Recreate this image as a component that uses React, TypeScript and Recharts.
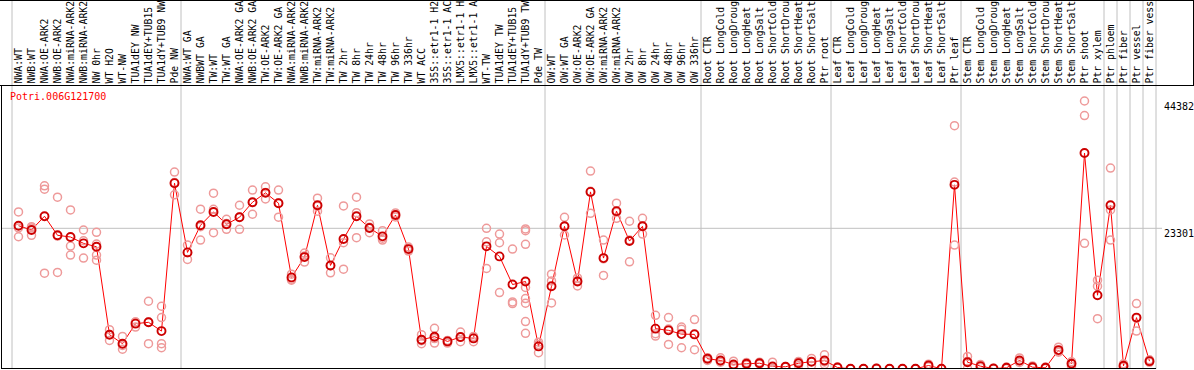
import React from 'react';
import { ComposedChart, Line, Scatter, XAxis, YAxis, ReferenceLine } from 'recharts';

const geneId = 'Potri.006G121700';

// sample names as the header prints them (cut to 14 characters)
const sampleLabels = [
  'NWA:WT', 'NWB:WT', 'NWA:OE-ARK2', 'NWB:OE-ARK2', 'NWA:miRNA-ARK2', 'NWB:miRNA-ARK2', 'NW 0hr', 'WT H2O',
  'WT-NW', 'TUA1dEY NW', 'TUA1dEY+TUB15', 'TUA1dY+TUB9 NW', 'Pde NW',
  'NWA:WT GA', 'NWBWT GA', 'TW:WT', 'TW:WT GA', 'NWA:OE-ARK2 GA', 'NWB:OE-ARK2 GA', 'TW:OE-ARK2', 'TW:OE-ARK2 GA',
  'NWA:miRNA-ARK2', 'NWB:miRNA-ARK2', 'TW:miRNA-ARK2', 'TW:miRNA-ARK2', 'TW 2hr', 'TW 8hr', 'TW 24hr', 'TW 48hr',
  'TW 96hr', 'TW 336hr', 'WT ACC', '35S::etr1-1 H2', '35S::etr1-1 AC', 'LMX5::etr1-1 H', 'LMX5::etr1-1 A',
  'WT-TW', 'TUA1dEY TW', 'TUA1dEY+TUB15', 'TUA1dY+TUB9 TW', 'Pde TW',
  'OW:WT', 'OW:WT GA', 'OW:OE-ARK2', 'OW:OE-ARK2 GA', 'OW:miRNA-ARK2', 'OW:miRNA-ARK2', 'OW 2hr', 'OW 8hr',
  'OW 24hr', 'OW 48hr', 'OW 96hr', 'OW 336hr',
  'Root CTR', 'Root LongCold', 'Root LongDroug', 'Root LongHeat', 'Root LongSalt', 'Root ShortCold',
  'Root ShortDrou', 'Root ShortHeat', 'Root ShortSalt', 'Ptr root',
  'Leaf CTR', 'Leaf LongCold', 'Leaf LongDroug', 'Leaf LongHeat', 'Leaf LongSalt', 'Leaf ShortCold',
  'Leaf ShortDrou', 'Leaf ShortHeat', 'Leaf ShortSalt', 'Ptr leaf',
  'Stem CTR', 'Stem LongCold', 'Stem LongDroug', 'Stem LongHeat', 'Stem LongSalt', 'Stem ShortCold',
  'Stem ShortDrou', 'Stem ShortHeat', 'Stem ShortSalt', 'Ptr shoot', 'Ptr xylem',
  'Ptr phloem', 'Ptr fiber', 'Ptr vessel', 'Ptr fiber vess',
];

// how many samples sit between two grey separators
const groupSizes = [13, 28, 12, 10, 10, 11, 1, 1, 1, 1];

const meanValues = [
  23730, 23020, 25300, 22140, 21860, 20810, 20240, 5680, 4190, 7510, 7730, 6280, 30780,
  19310, 23800, 26010, 23970, 25130, 27620, 29170, 27460, 15170, 18530, 27120, 17150, 21520, 25300, 23350, 21970,
  25510, 19860, 4850, 5350, 4570, 5290, 5070, 20310, 18650, 13990, 14490, 3740,
  13710, 23630, 14490, 29330, 18370, 26140, 21190, 23630, 6680, 6400, 5780, 5730,
  1700, 1410, 750, 860, 960, 420, 370, 960, 1200, 1410,
  250, 30, 30, 80, 30, 30, 30, 580, 30, 30500,
  1130, 470, 80, 200, 1410, 300, 200, 3130, 860, 35770, 12220,
  27120, 530, 8510, 1300,
];

const replicateValues = [
  [26010, 23350, 21900], [23350, 23570, 22140], [30330, 29780, 15870], [28450, 22020, 15990],
  [26340, 20360, 18860], [23020, 21240, 18370], [22640, 20690, 18860, 18030], [6520, 5730, 4740],
  [5400, 3910, 3290], [7780, 7800, 6950], [11220, 7780, 4190], [10390, 8510, 4190, 3520], [32610, 30900, 28840],
  [20530, 19260, 18150], [26460, 23570, 21360], [29120, 26440, 22570], [24800, 24080, 23140],
  [27120, 25180, 23140], [29630, 27570, 25630], [30170, 29220, 28170], [29630, 27510, 25150],
  [15710, 14880, 14710], [19200, 18700, 17700], [28290, 26960, 26130], [18420, 17100, 15920],
  [27010, 20910, 16540], [28450, 25890, 21740], [24020, 23470, 22570], [22900, 21660, 21360],
  [25840, 25510, 25180], [20190, 19860, 19530], [5680, 4690, 4190], [6730, 5040, 4290],
  [4740, 4690, 4290], [6120, 5240, 4520], [5400, 5240, 4520], [23300, 21070, 16650],
  [22350, 20910, 12660], [19860, 11100, 10840],
  [23190, 22900, 20640, 13500, 11670, 10890, 7850, 5900],
  [4450, 4070, 2690],
  [15710, 14590, 10940], [25130, 23580, 22190], [15090, 14630, 13760], [32770, 29430, 25790],
  [21360, 18250, 15490], [27460, 25960, 24960], [24470, 21360, 17750], [24960, 23580, 22350],
  [8890, 5850, 5450], [8510, 6620, 4070], [6950, 6570, 3520], [8180, 5830, 3190],
  [1880, 1800, 1410], [1860, 1250, 1130], [1300, 580, 420], [1080, 860, 670], [1130, 960, 800],
  [1130, 80, 30], [420, 370, 300], [1250, 1080, 580], [1750, 1250, 580], [2360, 1160, 750],
  [330, 250, 170], [20, 40, 30], [20, 40, 30], [60, 80, 100], [20, 40, 30], [20, 40, 30],
  [20, 40, 30], [800, 580, 370], [20, 40, 30], [40300, 30950, 20530],
  [2080, 1250, 80], [750, 420, 250], [60, 80, 100], [330, 200, 80], [1830, 1330, 1080],
  [500, 250, 170], [330, 170, 80], [3620, 2790, 2960], [960, 420, 1210], [44382, 41970, 20810],
  [14710, 13710, 8340], [33270, 26340, 21360], [860, 420, 330], [10840, 8390, 6280], [1530, 1250, 1110],
];

const axisTicks = [0, 23301, 44382];

const W = 1194;
const H = 370;
const HEADER_H = 85;
const LEFT = 12;
const RIGHT = 38;
const BOTTOM = 1;
const Y_MAX = 47033;
const PLOT_H = H - HEADER_H - BOTTOM;
const COL_W = (W - LEFT - RIGHT) / sampleLabels.length;
// value at the very top edge of the picture, so separators can run through the header
const Y_AT_TOP = (Y_MAX * (H - BOTTOM)) / PLOT_H;

const font = "'DejaVu Sans Mono', monospace";

const lineData = meanValues.map((v, i) => ({ x: i + 0.5, value: v }));
const repData = replicateValues.flatMap((reps, i) => reps.map(v => ({ x: i + 0.5, value: v })));

const boundaries: number[] = [0];
groupSizes.forEach(s => boundaries.push(boundaries[boundaries.length - 1] + s));

const LabelTick = (props: any) => {
  const { x, payload } = props;
  const label = sampleLabels[Math.floor(payload.value)];
  const y = HEADER_H - 1.5;
  return (
    <text x={x} y={y} dy="0.35em" transform={`rotate(-90, ${x}, ${y})`} fontFamily={font} fontSize={9.8} fill="#000">
      {label}
    </text>
  );
};

const ValueTick = (props: any) => {
  const { y, payload } = props;
  const ty = payload.value === 0 ? y - 3 : y + 8.5;
  return (
    <text x={W - RIGHT + 8} y={ty} fontFamily={font} fontSize={10} fill="#000">
      {payload.value}
    </text>
  );
};

const RepDot = (props: any) => (
  <circle cx={props.cx} cy={props.cy} r={4} fill="none" stroke="#ee9a9a" strokeWidth={1.5} />
);

export default function App() {
  const gridLeft = (1 - LEFT) / COL_W;
  const gridRight = (W - RIGHT + 6 - LEFT) / COL_W;
  return (
    <div style={{ position: 'absolute', left: 0, top: 0, width: W, height: H, background: '#fff' }}>
      <ComposedChart width={W} height={H} margin={{ top: 0, right: 0, bottom: BOTTOM, left: LEFT }}>
        <XAxis
          xAxisId={0}
          type="number"
          dataKey="x"
          orientation="top"
          height={HEADER_H}
          domain={[0, sampleLabels.length]}
          ticks={sampleLabels.map((_, i) => i + 0.5)}
          interval={0}
          allowDataOverflow
          axisLine={false}
          tickLine={false}
          tick={<LabelTick />}
        />
        <YAxis
          yAxisId={0}
          orientation="right"
          width={RIGHT}
          domain={[0, Y_MAX]}
          ticks={axisTicks}
          allowDataOverflow
          axisLine={false}
          tickLine={false}
          tick={<ValueTick />}
        />
        {boundaries.map(b => (
          <ReferenceLine
            key={'b' + b}
            segment={[{ x: b, y: 0 }, { x: b, y: Y_AT_TOP }]}
            stroke="#c0c0c0"
            strokeWidth={1}
            ifOverflow="visible"
          />
        ))}
        <ReferenceLine
          segment={[{ x: gridLeft, y: axisTicks[1] }, { x: gridRight, y: axisTicks[1] }]}
          stroke="#c0c0c0"
          strokeWidth={1}
          ifOverflow="visible"
        />
        <Scatter data={repData} dataKey="value" shape={RepDot} isAnimationActive={false} />
        <Line
          data={lineData}
          dataKey="value"
          type="linear"
          stroke="#ff0000"
          strokeWidth={1}
          dot={{ r: 4, stroke: '#cc0000', strokeWidth: 1.9, fill: 'none' }}
          activeDot={false}
          isAnimationActive={false}
        />
      </ComposedChart>
      <svg width={W} height={H} style={{ position: 'absolute', left: 0, top: 0, pointerEvents: 'none' }}>
        <line x1={0} y1={0.5} x2={W} y2={0.5} stroke="#000" />
        <line x1={0} y1={HEADER_H + 0.5} x2={W} y2={HEADER_H + 0.5} stroke="#000" />
        <line x1={W - 0.5} y1={0} x2={W - 0.5} y2={HEADER_H} stroke="#000" />
        <line x1={1.5} y1={HEADER_H} x2={1.5} y2={H - 1} stroke="#000" />
        <line x1={1} y1={H - 1.5} x2={W - RIGHT} y2={H - 1.5} stroke="#000" />
        <text x={10} y={100} fontFamily={font} fontSize={10} fill="#ff0000">{geneId}</text>
      </svg>
    </div>
  );
}
